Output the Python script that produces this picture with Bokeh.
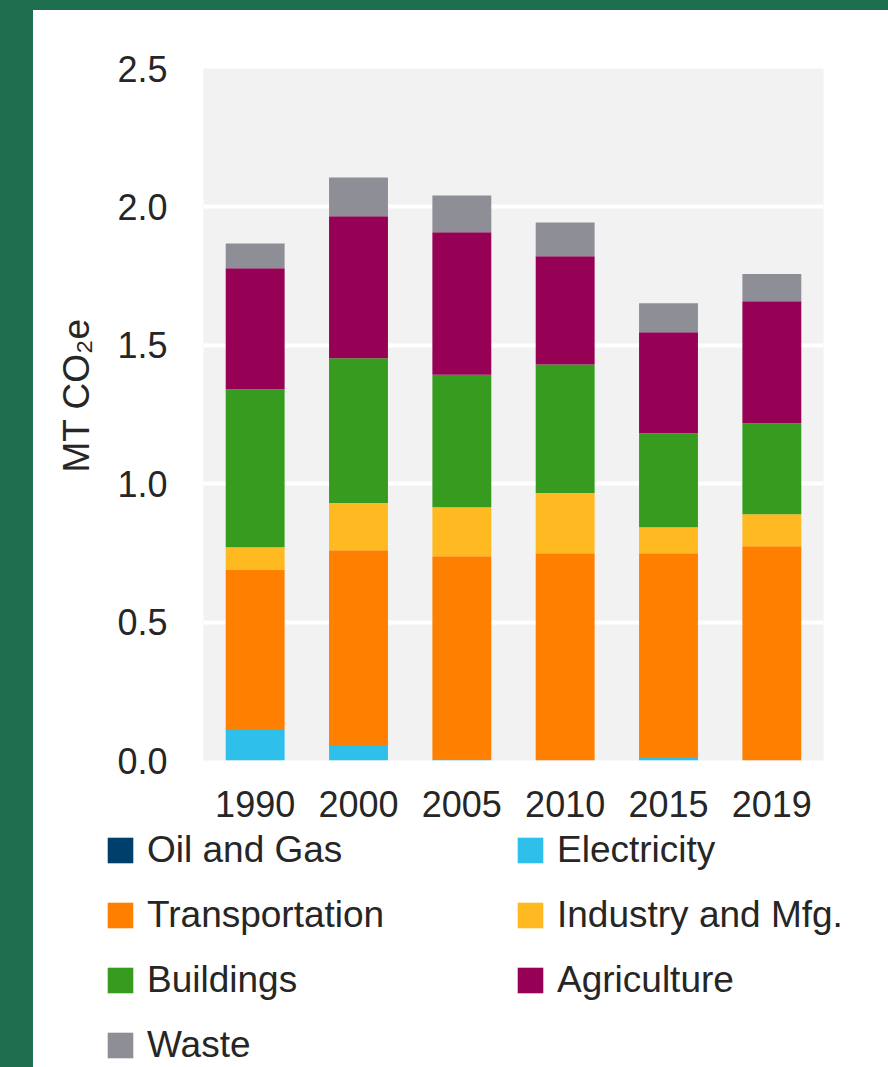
from bokeh.plotting import figure
from bokeh.models import (ColumnDataSource, FactorRange, Range1d, Legend, LegendItem, Title,
                          PrintfTickFormatter, FixedTicker, Spacer, GlobalInlineStyleSheet)
from bokeh.layouts import row, column
from bokeh.embed import file_html
from bokeh.resources import INLINE

years = ["1990", "2000", "2005", "2010", "2015", "2019"]
sectors = ["Oil and Gas", "Electricity", "Transportation", "Industry and Mfg.",
           "Buildings", "Agriculture", "Waste"]
oil_gas = [0.0, 0.0, 0.0, 0.0, 0.0, 0.0]
electricity = [0.11, 0.052, 0.005, 0.0, 0.013, 0.0]
transportation = [0.578, 0.708, 0.733, 0.749, 0.736, 0.774]
industry = [0.082, 0.17, 0.177, 0.217, 0.094, 0.116]
buildings = [0.571, 0.523, 0.479, 0.465, 0.339, 0.328]
agriculture = [0.437, 0.513, 0.514, 0.391, 0.365, 0.441]
waste = [0.09, 0.14, 0.133, 0.122, 0.105, 0.099]
colors = ["#003f6b", "#2ec0eb", "#ff7f00", "#ffba22", "#379b1f", "#960055", "#8e8e96"]
y_ticks = [0.0, 0.5, 1.0, 1.5, 2.0, 2.5]

GREEN = "#1e6f50"
FONT = "Liberation Sans"
TXT = "#262626"

keys = ["oil", "elec", "trans", "ind", "bld", "agri", "waste"]
source = ColumnDataSource(dict(year=years, oil=oil_gas, elec=electricity, trans=transportation,
                               ind=industry, bld=buildings, agri=agriculture, waste=waste))

# ---- main chart ----
p = figure(x_range=FactorRange(factors=years), y_range=Range1d(0, 2.5),
           width=855, height=815, output_backend="svg", toolbar_location=None,
           min_border_left=170, min_border_right=65, min_border_top=58, min_border_bottom=65)
p.background_fill_color = "#f2f2f2"
p.border_fill_color = "white"
p.outline_line_color = None

rs = p.vbar_stack(keys, x="year", width=0.57, fill_color=colors, line_color=None, source=source)

p.xgrid.visible = False
p.ygrid.ticker = FixedTicker(ticks=[0.5, 1.0, 1.5, 2.0])
p.ygrid.grid_line_color = "white"
p.ygrid.grid_line_width = 4

p.yaxis.ticker = FixedTicker(ticks=y_ticks)
p.yaxis.formatter = PrintfTickFormatter(format="%.1f")
for ax in (p.xaxis[0], p.yaxis[0]):
    ax.axis_line_color = None
    ax.major_tick_line_color = None
    ax.minor_tick_line_color = None
    ax.major_label_text_font = FONT
    ax.major_label_text_font_size = "36px"
    ax.major_label_text_color = TXT
p.yaxis.major_label_standoff = 30
p.xaxis.major_label_standoff = 24

ytitle = Title(text="MT CO\u2082e", align="left", offset=288, standoff=36,
               text_font=FONT, text_font_size="37px", text_font_style="normal", text_color=TXT)
p.add_layout(ytitle, "left")

# ---- legend panel ----
pl = figure(width=855, height=242, output_backend="svg", toolbar_location=None,
            x_range=FactorRange(factors=years), y_range=Range1d(3, 4),
            x_axis_type=None, y_axis_type=None,
            min_border_left=0, min_border_right=0, min_border_top=0, min_border_bottom=0)
pl.outline_line_color = None
pl.background_fill_color = "white"
pl.border_fill_color = "white"
pl.xgrid.visible = False
pl.ygrid.visible = False
for fig in (p, pl):
    if "frame_align" in fig.properties():
        fig.frame_align = False

# same stacked data, drawn outside this panel's visible range: only the legend swatches show
swatches = pl.vbar_stack(keys, x="year", width=0.57, fill_color=colors, line_color=None,
                         source=source)

def make_legend(idx, loc):
    items = [LegendItem(label=sectors[i], renderers=[swatches[i]]) for i in idx]
    return Legend(items=items, location=loc, orientation="vertical",
                  label_text_font=FONT, label_text_font_size="37px", label_text_color=TXT,
                  glyph_width=32, glyph_height=32, label_standoff=11, spacing=21,
                  label_height=44, padding=0, margin=0, border_line_color=None,
                  background_fill_alpha=0)

pl.add_layout(make_legend([0, 2, 4, 6], (71, 0)))
pl.add_layout(make_legend([1, 3, 5], (481, 65)))

panel = column(p, pl, styles={"background-color": "white"})
layout = column(Spacer(height=10, width=888),
                row(Spacer(width=33, height=1057), panel),
                stylesheets=[GlobalInlineStyleSheet(css="body { background-color: %s; }" % GREEN)])

open("out.html", "w").write(file_html(layout, INLINE))
